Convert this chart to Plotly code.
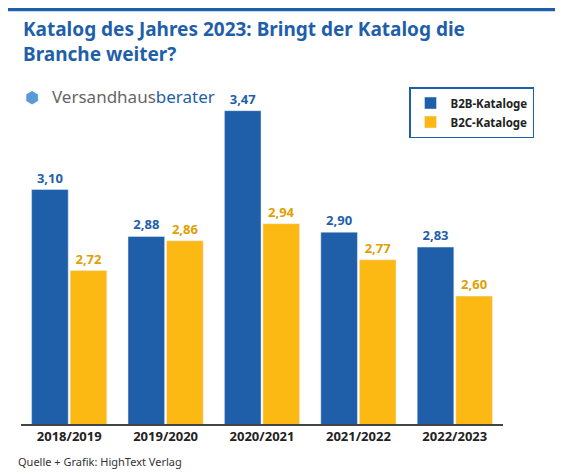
import plotly.graph_objects as go

years = ["2018/2019", "2019/2020", "2020/2021", "2021/2022", "2022/2023"]
b2b = [3.10, 2.88, 3.47, 2.90, 2.83]
b2c = [2.72, 2.86, 2.94, 2.77, 2.60]

blue = "#1f5faa"
yellow = "#fdb913"

def de(v):
    return ("%.2f" % v).replace(".", ",")

fig = go.Figure()
fig.add_trace(go.Bar(x=years, y=b2b, name="<b>B2B-Kataloge</b>", marker_color=blue,
                     text=["<b>%s</b>" % de(v) for v in b2b], textposition="outside",
                     textfont=dict(color=blue, size=13), cliponaxis=False))
fig.add_trace(go.Bar(x=years, y=b2c, name="<b>B2C-Kataloge</b>", marker_color=yellow,
                     text=["<b>%s</b>" % de(v) for v in b2c], textposition="outside",
                     textfont=dict(color="#e0a000", size=13), cliponaxis=False))

# page body adds 8px margin, so the figure is sized to fit inside the window
fig.update_layout(
    width=555, height=468,
    margin=dict(l=13, r=60, t=92, b=52),
    paper_bgcolor="white", plot_bgcolor="white",
    font=dict(family="Noto Sans", color="#222"),
    barmode="group", bargap=0.2, bargroupgap=0.05,
    legend=dict(x=0.805, y=1.04, xanchor="left", yanchor="top",
                bordercolor=blue, borderwidth=1.5, bgcolor="white",
                font=dict(size=11.5, color="#222"), tracegroupgap=4),
    xaxis=dict(showline=True, linecolor="#444", linewidth=1.5, ticks="",
               tickvals=years, ticktext=["<b>%s</b>" % y for y in years],
               tickfont=dict(size=13, color="#222")),
    yaxis=dict(range=[2.0, 3.52], visible=False),
    shapes=[dict(type="rect", xref="paper", yref="paper", x0=-0.1, x1=1.2,
                 y0=1.274, y1=1.284, fillcolor=blue, line_width=0)],
    annotations=[
        dict(text="<b>Katalog des Jahres 2023: Bringt der Katalog die<br>Branche weiter?</b>",
             xref="paper", yref="paper", x=0.0, y=1.18, xanchor="left", yanchor="middle",
             align="left", showarrow=False, font=dict(size=19, color=blue)),
        dict(text="Versandhaus<span style='color:%s'>berater</span>" % blue,
             xref="paper", yref="paper", x=0.06, y=1.01, xanchor="left", yanchor="middle",
             showarrow=False, font=dict(size=17, color="#666", family="Noto Sans")),
        dict(text="<span style='color:%s'>&#x2B22;</span>" % "#5a9ad6",
             xref="paper", yref="paper", x=0.005, y=1.01, xanchor="left", yanchor="middle",
             showarrow=False, font=dict(size=16)),
        dict(text="Quelle + Grafik: HighText Verlag", xref="paper", yref="paper",
             x=-0.01, y=-0.117, xanchor="left", yanchor="middle", showarrow=False,
             font=dict(size=11, color="#333")),
    ],
)
fig.write_html("out.html")
